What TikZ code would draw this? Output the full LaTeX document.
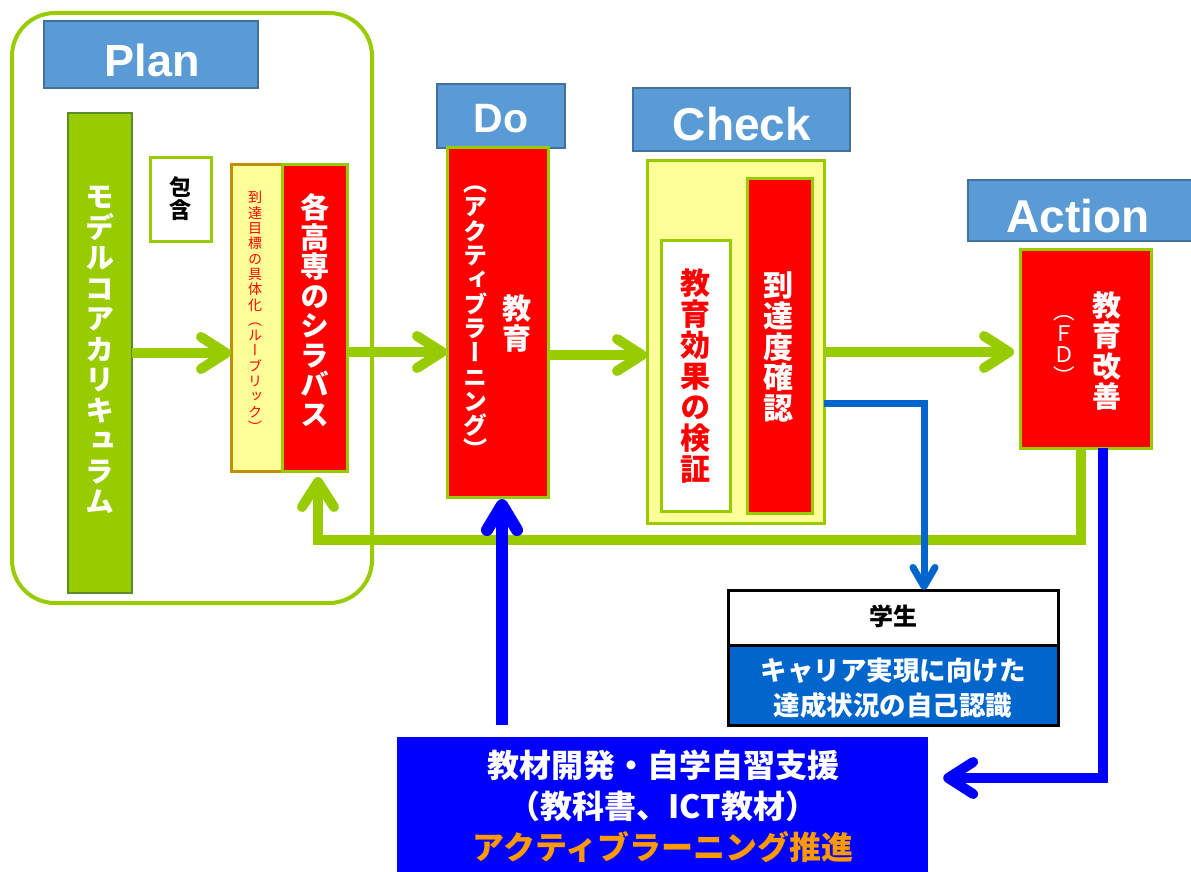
\documentclass[tikz,border=0pt]{standalone}
\usepackage{fontspec}
\setmainfont{Liberation Sans}
\newfontfamily\jp{Noto Sans CJK JP}
\newfontfamily\jpv{Noto Sans CJK JP}[RawFeature={+vert}]
\usetikzlibrary{arrows.meta}
\definecolor{grn}{HTML}{99CC00}
\definecolor{grndark}{HTML}{5C8A2E}
\definecolor{lblue}{HTML}{5B9BD5}
\definecolor{lbdark}{HTML}{41719C}
\definecolor{yel}{HTML}{FFFF99}
\definecolor{gold}{HTML}{BF9000}
\definecolor{redf}{HTML}{FF0000}
\definecolor{midblue}{HTML}{0066CC}
\definecolor{pureblue}{HTML}{0000FF}
\definecolor{orng}{HTML}{FF9900}
\makeatletter
\newcommand\tate[2]{\vbox{\baselineskip=#1\lineskiplimit=-100pt\lineskip=0pt\@tfor\tate@c:=#2\do{\hbox to 1em{\hss\tate@c\hss}}}}
\makeatother
\begin{document}
\begin{tikzpicture}[x=1pt,y=-1pt,
  box/.style={draw, line width=3pt, inner sep=0pt, outer sep=0pt},
  lbl/.style={box, fill=lblue, draw=lbdark, line width=2pt},
  lbltxt/.style={text=white, inner sep=0pt, anchor=base, font=\bfseries\fontsize{46}{46}\selectfont},
  vt/.style={inner sep=0pt},
  garrow/.style={draw=grn, line width=10pt, -{Straight Barb[round,length=25pt,width=32pt]}},
  barrow/.style={draw=pureblue, line width=10pt, -{Straight Barb[round,length=25pt,width=32pt]}},
  marrow/.style={draw=midblue, line width=7pt, -{Straight Barb[round,length=19pt,width=22pt]}}
]
\useasboundingbox (0,0) rectangle (1191,872);

% Plan group
\node[draw=grn, line width=4pt, rounded corners=43pt, minimum width=360pt, minimum height=590pt, inner sep=0pt] (planbox) at (192,308) {};
\node[lbl, minimum width=214pt, minimum height=67pt] (planlbl) at (151,54.5) {};
\node[lbltxt, font=\bfseries\fontsize{45}{45}\selectfont] (plantxt) at (152,77) {Plan};

\node[box, fill=grn, draw=grndark, line width=2pt, minimum width=64pt, minimum height=479pt] (model) at (100,353) {};
\node[vt, text=white, font=\jpv\bfseries\fontsize{29}{29}\selectfont] (tmodel) at (100,350) {\tate{30.5pt}{モデルコアカリキュラム}};

\node[box, fill=white, draw=grn, minimum width=61pt, minimum height=84pt] (hougan) at (180.5,199) {};
\node[vt, text=black, font=\jpv\bfseries\fontsize{22}{22}\selectfont] (thougan) at (180,199) {\tate{23pt}{包含}};

\node[box, fill=yel, draw=gold, minimum width=51pt, minimum height=307pt] (rubric) at (256.5,317.5) {};
\node[vt, text=redf, font=\jpv\fontsize{14}{14}\selectfont] (trubric) at (255,312) {\tate{15.3pt}{到達目標の具体化（ルーブリック）}};

\node[box, fill=redf, draw=grn, minimum width=65pt, minimum height=307pt] (syllabus) at (314.5,317.5) {};
\node[vt, text=white, font=\jpv\bfseries\fontsize{29}{29}\selectfont] (tsyllabus) at (315,310) {\tate{29.5pt}{各高専のシラバス}};

% Do
\node[lbl, minimum width=128pt, minimum height=64pt] (dolbl) at (501,116) {};
\node[lbltxt, font=\bfseries\fontsize{41}{41}\selectfont] (dotxt) at (501,132) {Do};
\node[box, fill=redf, draw=grn, minimum width=101pt, minimum height=349pt] (do) at (497.5,322.5) {};
\node[vt, text=white, font=\jpv\bfseries\fontsize{29}{29}\selectfont] (tdo1) at (517,323) {\tate{30pt}{教育}};
\node[vt, text=white, font=\jpv\bfseries\fontsize{24}{24}\selectfont] (tdo2) at (475,322.5) {\tate{24.3pt}{（アクティブラーニング）}};

% Check
\node[lbl, minimum width=217pt, minimum height=63pt] (chklbl) at (741.5,119.5) {};
\node[lbltxt] (chktxt) at (742,141) {Check};
\node[box, fill=yel, draw=grn, minimum width=177pt, minimum height=363pt] (chk) at (735.5,341.5) {};
\node[box, fill=white, draw=grn, minimum width=69pt, minimum height=271pt] (kouka) at (695.5,375.5) {};
\node[vt, text=redf, font=\jpv\bfseries\fontsize{30}{30}\selectfont] (tkouka) at (695,376) {\tate{31pt}{教育効果の検証}};
\node[box, fill=redf, draw=grn, minimum width=65pt, minimum height=335pt] (toutatsu) at (779.5,345.5) {};
\node[vt, text=white, font=\jpv\bfseries\fontsize{30}{30}\selectfont] (ttoutatsu) at (778,347) {\tate{30.6pt}{到達度確認}};

% Action
\node[lbl, minimum width=228pt, minimum height=61pt] (actlbl) at (1082,210.5) {};
\node[lbltxt] (acttxt) at (1078,232) {Action};
\node[box, fill=redf, draw=grn, minimum width=131pt, minimum height=199pt] (act) at (1085.5,348.5) {};
\node[vt, text=white, font=\jpv\bfseries\fontsize{29}{29}\selectfont] (tact1) at (1107,351) {\tate{30.5pt}{教育改善}};
\node[vt, text=white, font=\jpv\fontsize{21.5}{21.5}\selectfont] (tact2) at (1064,350) {\tate{21.5pt}{（ＦＤ）}};

% Student box
\node[box, fill=white, draw=black, minimum width=330pt, minimum height=55pt] (gak) at (893,617.5) {};
\node[box, fill=midblue, draw=black, minimum width=330pt, minimum height=80pt] (gakb) at (893,685) {};
\node[text=black, font=\jp\bfseries\fontsize{24}{24}\selectfont] (tgak) at (893,616) {学生};
\node[text=white, align=center, font=\jp\bfseries\fontsize{26.5}{35}\selectfont] (tgakb) at (893,688) {キャリア実現に向けた\\達成状況の自己認識};

% Support box
\node[fill=pureblue, inner sep=0pt, minimum width=531pt, minimum height=140pt] (bluebox) at (662.5,807) {};
\node[text=white, align=center, font=\jp\bfseries\fontsize{32}{41}\selectfont] (tblue) at (663,806) {教材開発・自学自習支援\\（教科書、ICT教材）\\\textcolor{orng}{アクティブラーニング推進}};

% Coordinates
\coordinate (r1) at (0,353);
\coordinate (r2) at (0,352);
\coordinate (r3) at (0,355);
\coordinate (fb1) at (1081,540);
\coordinate (b1) at (924,403);
\coordinate (b2) at (1103,778);
\coordinate (b3) at (502,725);
\coordinate (fbx) at (318,0);

% Green flow arrows
\draw[garrow] (model.east |- r1) -- (rubric.west |- r1);
\draw[garrow] (syllabus.east |- r2) -- (do.west |- r2);
\draw[garrow] (do.east |- r3) -- (chk.west |- r3);
\draw[garrow, shorten >=6pt] (chk.east |- r2) -- (act.west |- r2);
\draw[garrow, shorten >=6pt] (act.south -| fb1) |- (fb1 -| fbx) -- (fbx |- syllabus.south);

% Blue arrows
\draw[marrow] (chk.east |- b1) -- (b1) -- (b1 |- gak.north);
\draw[barrow, shorten >=15pt] (act.south -| b2) -- (b2) -- (bluebox.east |- b2);
\draw[barrow, line width=12pt, -{Straight Barb[round,length=25pt,width=30pt]}, shorten >=2pt] (b3) -- (b3 |- do.south);
\end{tikzpicture}
\end{document}
